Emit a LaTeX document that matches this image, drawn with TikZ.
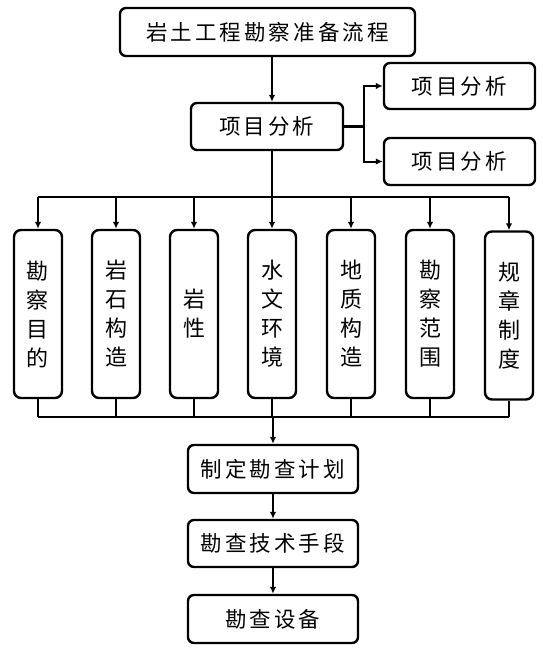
\documentclass[tikz,border=0pt]{standalone}
\usepackage{fontspec}
\newfontfamily\cjk[LetterSpace=14]{Noto Sans CJK SC}
\newfontfamily\cjkv{Noto Sans CJK SC}
\usetikzlibrary{arrows.meta}
\tikzset{
  box/.style={draw, line width=2.4pt, rounded corners=6pt, inner sep=0pt, align=center,
    font=\cjk\fontsize{21.5}{25}\selectfont},
  tallbox/.style={draw, line width=2.4pt, rounded corners=7pt, inner sep=0pt, align=center,
    minimum width=48pt, minimum height=168pt, font=\cjkv\fontsize{22}{29}\selectfont},
  conn/.style={line width=2.2pt},
  arr/.style={line width=2pt, -{Latex[length=7pt,width=6.5pt]}},
}
\begin{document}
\begin{tikzpicture}[x=1pt,y=-1pt]
\useasboundingbox (0,0) rectangle (542,651);
% top nodes
\node[box, minimum width=295pt, minimum height=48pt] (title) at (267.5,32) {岩土工程勘察准备流程};
\node[box, minimum width=152pt, minimum height=47pt] (pa) at (267,126.5) {项目分析};
\node[box, minimum width=151pt, minimum height=46pt] (r1) at (459.5,86) {项目分析};
\node[box, minimum width=151pt, minimum height=47pt] (r2) at (459.5,161.5) {项目分析};
% tall nodes
\node[tallbox] (t1) at (38,314) {勘\\察\\目\\的};
\node[tallbox] (t2) at (116,314) {岩\\石\\构\\造};
\node[tallbox] (t3) at (194,314) {岩\\性};
\node[tallbox] (t4) at (272,314) {水\\文\\环\\境};
\node[tallbox] (t5) at (351,314) {地\\质\\构\\造};
\node[tallbox] (t6) at (430,314) {勘\\察\\范\\围};
\node[tallbox] (t7) at (509,315.5) {规\\章\\制\\度};
% bottom nodes
\node[box, minimum width=170pt, minimum height=48pt] (p1) at (273,469) {制定勘查计划};
\node[box, minimum width=170pt, minimum height=47pt] (p2) at (273,543.5) {勘查技术手段};
\node[box, minimum width=170pt, minimum height=48pt] (p3) at (273,619) {勘查设备};
% coordinates
\coordinate (busT) at (272,197);
\coordinate (busB) at (272,417);
% connectors top
\draw[arr] (title.south -| t4) -- (pa.north -| t4);
\draw[conn] (pa.east) -- ++(20,0) coordinate (br);
\draw[arr] (br) |- (r1.west);
\draw[arr] (br) |- (r2.west);
\draw[conn] (pa.south -| t4) -- (busT);
\draw[conn] (t1.north |- busT) -- (t7.north |- busT);
\foreach \t in {t1,t2,t3,t4,t5,t6,t7}{
  \draw[arr] (\t.north |- busT) -- (\t.north);
  \draw[conn] (\t.south) -- (\t.south |- busB);
}
\draw[conn] (t1.south |- busB) -- (t7.south |- busB);
\draw[arr] (p1.north |- busB) -- (p1.north);
\draw[arr] (p1) -- (p2);
\draw[arr] (p2) -- (p3);
\end{tikzpicture}
\end{document}
